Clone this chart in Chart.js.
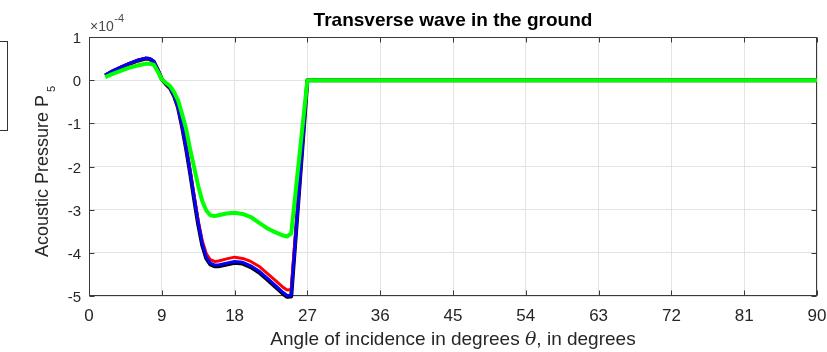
<!DOCTYPE html>
<html>
<head>
<meta charset="utf-8">
<script src="https://cdn.jsdelivr.net/npm/chart.js@4.4.1/dist/chart.umd.min.js"></script>
<style>
  html, body { margin: 0; padding: 0; background: #ffffff; }
  #wrap { position: relative; width: 827px; height: 352px; }
</style>
</head>
<body>
<div id="wrap"><canvas id="c" width="827" height="352"></canvas></div>
<script>
// ---- data (pressure values in units of 10^-4) ----
const chartTitle = "Transverse wave in the ground";
const xAxisTitleA = "Angle of incidence in degrees ";
const xAxisTitleSym = "\u03B8";
const xAxisTitleB = ", in degrees";
const yAxisTitle = "Acoustic Pressure P";
const yAxisSub = "5";
const exponentBase = "\u00D710";
const exponentPow = "-4";

const xTicks = [0, 9, 18, 27, 36, 45, 54, 63, 72, 81, 90];
const yTicks = [-5, -4, -3, -2, -1, 0, 1];

const theta = [2, 3, 4, 5, 6, 7, 7.5, 8, 8.5, 9, 9.5, 10, 10.5, 11, 11.5, 12, 12.5, 13, 13.5, 14,
  14.5, 15, 15.5, 16, 17, 18, 19, 20, 21, 22, 23, 24, 24.5, 25, 27, 36, 45, 54, 63, 72, 81, 90];

const pBlack = [0.11, 0.21, 0.30, 0.38, 0.45, 0.50, 0.49, 0.43, 0.24, 0.02, -0.09, -0.18, -0.36, -0.63, -1.07, -1.58, -2.15, -2.76, -3.34, -3.82,
  -4.13, -4.27, -4.31, -4.31, -4.27, -4.23, -4.25, -4.33, -4.45, -4.61, -4.78, -4.95, -5.02, -5.01, 0, 0, 0, 0, 0, 0, 0, 0];

const pRed = [0.12, 0.22, 0.31, 0.39, 0.46, 0.51, 0.50, 0.44, 0.25, 0.03, -0.08, -0.17, -0.35, -0.62, -1.04, -1.53, -2.09, -2.68, -3.25, -3.72,
  -4.02, -4.16, -4.20, -4.19, -4.14, -4.10, -4.13, -4.20, -4.31, -4.47, -4.63, -4.80, -4.86, -4.85, 0, 0, 0, 0, 0, 0, 0, 0];

const pBlue = [0.12, 0.22, 0.31, 0.39, 0.46, 0.51, 0.50, 0.44, 0.25, 0.03, -0.08, -0.17, -0.35, -0.62, -1.05, -1.55, -2.12, -2.72, -3.30, -3.78,
  -4.10, -4.24, -4.28, -4.28, -4.24, -4.20, -4.22, -4.30, -4.42, -4.58, -4.75, -4.92, -4.99, -4.98, 0, 0, 0, 0, 0, 0, 0, 0];

const pGreen = [0.07, 0.15, 0.22, 0.29, 0.34, 0.38, 0.38, 0.36, 0.20, 0.02, -0.06, -0.13, -0.27, -0.46, -0.78, -1.12, -1.60, -2.02, -2.45, -2.80,
  -3.02, -3.13, -3.15, -3.13, -3.09, -3.07, -3.10, -3.17, -3.30, -3.43, -3.52, -3.60, -3.62, -3.55, 0, 0, 0, 0, 0, 0, 0, 0];

// ---- styles ----
const FONT = "'Liberation Sans', Arial, Helvetica, sans-serif";
const AXIS_COLOR = "#3a3a3a";
const TEXT_COLOR = "#262626";

function pts(ys) { return theta.map((t, i) => ({ x: t, y: ys[i] })); }

const decor = {
  id: 'decor',
  beforeDatasetsDraw(chart) {
    const { ctx, chartArea: a, scales } = chart;
    ctx.save();
    ctx.strokeStyle = AXIS_COLOR;
    ctx.lineWidth = 1;
    const L = Math.round(a.left) + 0.5, R = Math.round(a.right) - 0.5;
    const T = Math.round(a.top) + 0.5, B = Math.round(a.bottom) - 0.5;
    ctx.strokeRect(L, T, R - L, B - T);
    const tl = 5;
    ctx.beginPath();
    xTicks.forEach(v => {
      const x = Math.round(scales.x.getPixelForValue(v)) + 0.5;
      ctx.moveTo(x, B); ctx.lineTo(x, B - tl);
      ctx.moveTo(x, T); ctx.lineTo(x, T + tl);
    });
    yTicks.forEach(v => {
      const y = Math.round(scales.y.getPixelForValue(v)) + 0.5;
      ctx.moveTo(L, y); ctx.lineTo(L + tl, y);
      ctx.moveTo(R, y); ctx.lineTo(R - tl, y);
    });
    ctx.stroke();
    ctx.restore();
  },
  afterDraw(chart) {
    const { ctx, chartArea: a } = chart;
    ctx.save();
    // partial box at the left edge
    ctx.strokeStyle = "#333333";
    ctx.lineWidth = 1;
    ctx.strokeRect(-6.5, 41.5, 14, 89);

    // title
    ctx.fillStyle = "#000000";
    ctx.font = "bold 19px " + FONT;
    ctx.textAlign = "center";
    ctx.textBaseline = "alphabetic";
    ctx.fillText(chartTitle, (a.left + a.right) / 2, 26);

    // exponent
    ctx.fillStyle = "#4a4a4a";
    ctx.textAlign = "left";
    ctx.font = "14px " + FONT;
    ctx.fillText(exponentBase, 90, 31);
    const wb = ctx.measureText(exponentBase).width;
    ctx.font = "11px " + FONT;
    ctx.fillText(exponentPow, 90 + wb + 0.5, 22);

    // x axis title
    ctx.fillStyle = TEXT_COLOR;
    ctx.font = "19px " + FONT;
    const w1 = ctx.measureText(xAxisTitleA).width;
    const w3 = ctx.measureText(xAxisTitleB).width;
    ctx.font = "italic 19px 'DejaVu Serif', serif";
    const w2 = ctx.measureText(xAxisTitleSym).width;
    let x0 = (a.left + a.right) / 2 - (w1 + w2 + w3) / 2;
    const yb = 345;
    ctx.font = "19px " + FONT;
    ctx.fillText(xAxisTitleA, x0, yb);
    ctx.font = "italic 19px 'DejaVu Serif', serif";
    ctx.fillText(xAxisTitleSym, x0 + w1, yb);
    ctx.font = "19px " + FONT;
    ctx.fillText(xAxisTitleB, x0 + w1 + w2, yb);

    // y axis title
    ctx.translate(48, 257);
    ctx.rotate(-Math.PI / 2);
    ctx.font = "18px " + FONT;
    ctx.fillText(yAxisTitle, 0, 0);
    const wy = ctx.measureText(yAxisTitle).width;
    ctx.font = "11px " + FONT;
    ctx.fillText(yAxisSub, wy + 3, 7);
    ctx.restore();
  }
};

const chart = new Chart(document.getElementById('c'), {
  type: 'line',
  data: {
    datasets: [
      { label: 'green', data: pts(pGreen), borderColor: '#00ff00', borderWidth: 4, order: 0 },
      { label: 'blue', data: pts(pBlue), borderColor: '#0000ff', borderWidth: 3, order: 1 },
      { label: 'red', data: pts(pRed), borderColor: '#ff0000', borderWidth: 3, order: 2 },
      { label: 'black', data: pts(pBlack), borderColor: '#000000', borderWidth: 4, order: 3 }
    ].map(d => Object.assign(d, { pointRadius: 0, tension: 0, fill: false, clip: 4, borderJoinStyle: 'round' }))
  },
  options: {
    responsive: false,
    animation: false,
    devicePixelRatio: 1,
    layout: { padding: { left: 0, right: 10, top: 37, bottom: 0 } },
    plugins: { legend: { display: false }, tooltip: { enabled: false }, title: { display: false } },
    scales: {
      x: {
        type: 'linear', min: 0, max: 90,
        afterBuildTicks(s) { s.ticks = xTicks.map(v => ({ value: v })); },
        afterFit(s) { s.height = 56; s.paddingLeft = 0; s.paddingRight = 0; },
        ticks: { color: TEXT_COLOR, font: { family: FONT, size: 17 }, padding: 10, maxRotation: 0, autoSkip: false },
        grid: { color: '#e3e3e3', drawTicks: false, lineWidth: 1 },
        border: { display: false }
      },
      y: {
        type: 'linear', min: -5, max: 1,
        afterBuildTicks(s) { s.ticks = yTicks.map(v => ({ value: v })); },
        afterFit(s) { s.width = 89; s.paddingTop = 0; s.paddingBottom = 0; },
        ticks: { color: TEXT_COLOR, font: { family: FONT, size: 15 }, padding: 8, labelOffset: 2, autoSkip: false },
        grid: { color: '#e3e3e3', drawTicks: false, lineWidth: 1 },
        border: { display: false }
      }
    }
  },
  plugins: [decor]
});
</script>
</body>
</html>
